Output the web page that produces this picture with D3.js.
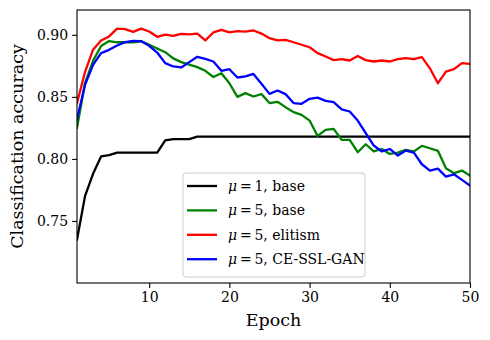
<!DOCTYPE html>
<html><head><meta charset="utf-8">
<script src="https://cdn.jsdelivr.net/npm/d3@7/dist/d3.min.js"></script>
<style>body{margin:0;background:#fff}svg{display:block}svg text{font-family:'DejaVu Serif',serif !important;fill:#000}</style>
</head><body><svg id="c" width="490" height="340"></svg>
<script>
const epochs = d3.range(1, 51);
const mu1Base = [0.735,0.770,0.788,0.802,0.803,0.805,0.805,0.805,0.805,0.805,
  0.805,0.815,0.816,0.816,0.816,0.818,0.818,0.818,0.818,0.818,
  0.818,0.818,0.818,0.818,0.818,0.818,0.818,0.818,0.818,0.818,
  0.818,0.818,0.818,0.818,0.818,0.818,0.818,0.818,0.818,0.818,
  0.818,0.818,0.818,0.818,0.818,0.818,0.818,0.818,0.818,0.818];
const mu5Base = [0.825,0.861,0.879,0.891,0.895,0.894,0.894,0.894,0.895,0.892,
  0.889,0.886,0.881,0.878,0.876,0.874,0.871,0.866,0.869,0.861,
  0.850,0.853,0.8503,0.8522,0.845,0.846,0.8417,0.8377,0.8355,0.8309,
  0.8185,0.8234,0.8242,0.8153,0.8153,0.8054,0.8118,0.806,0.808,0.804,
  0.805,0.8073,0.806,0.8105,0.8086,0.8065,0.7925,0.7885,0.7906,0.7865];
const mu5Elitism = [0.845,0.870,0.888,0.8954,0.8987,0.905,0.9046,0.9024,0.905,0.9027,
  0.8984,0.9002,0.8992,0.9008,0.9003,0.901,0.8955,0.9019,0.904,0.902,
  0.903,0.9025,0.9035,0.901,0.8973,0.8955,0.896,0.894,0.892,0.890,
  0.8852,0.8825,0.8796,0.8804,0.8793,0.883,0.8796,0.8785,0.8793,0.8785,
  0.8804,0.8812,0.8804,0.882,0.873,0.861,0.8704,0.8723,0.8772,0.8766];
const mu5CESSLGAN = [0.832,0.8597,0.8758,0.8852,0.8879,0.8914,0.8941,0.8952,0.8948,0.8911,
  0.8857,0.8772,0.8745,0.8737,0.878,0.8823,0.8806,0.8785,0.871,0.8723,
  0.8656,0.8665,0.8685,0.8605,0.8524,0.8551,0.8522,0.845,0.8444,0.8484,
  0.8494,0.8468,0.8457,0.84,0.8382,0.8309,0.8207,0.8108,0.806,0.808,
  0.8027,0.8067,0.8051,0.7957,0.7906,0.7922,0.7857,0.7876,0.7831,0.7785];
const seriesNames = ["base", "base", "elitism", "CE-SSL-GAN"];
const seriesMu = ["1", "5", "5", "5"];
const seriesColors = ["#000000", "#008000", "#ff0000", "#0000ff"];
const xTicks = [10, 20, 30, 40, 50];
const yTicks = [0.75, 0.80, 0.85, 0.90];

const series = [mu1Base, mu5Base, mu5Elitism, mu5CESSLGAN];
const FONT = "'DejaVu Serif', serif";
const L = 77, R = 470, T = 10, B = 283;
const svg = d3.select("#c");
const x = d3.scaleLinear().domain([1, 50]).range([L, R]);
const y = d3.scaleLinear().domain([0.70, 0.92]).range([B, T]);

const plot = svg.append("g");
plot.append("clipPath").attr("id","clip").append("rect").attr("x",L).attr("y",T).attr("width",R-L).attr("height",B-T);
const line = d3.line().x((d,i)=>x(epochs[i])).y(d=>y(d));
series.forEach((s,k)=>{
  plot.append("path").attr("d", line(s)).attr("fill","none")
    .attr("stroke", seriesColors[k]).attr("stroke-width", 2.3)
    .attr("stroke-linejoin","round").attr("stroke-linecap","square")
    .attr("clip-path","url(#clip)");
});

// axes
const xAxis = svg.append("g").attr("transform",`translate(0,${B})`)
  .call(d3.axisBottom(x).tickValues(xTicks).tickSize(4.9).tickPadding(4));
const yAxis = svg.append("g").attr("transform",`translate(${L},0)`)
  .call(d3.axisLeft(y).tickValues(yTicks).tickFormat(d3.format(".2f")).tickSize(4.9).tickPadding(4));
[xAxis,yAxis].forEach(a=>{
  a.attr("font-family", null).style("font-family", FONT);
  a.select(".domain").remove();
  a.selectAll("line").attr("stroke","#000").attr("stroke-width",1.1);
  a.selectAll("text").attr("font-size",14).style("font-family",FONT).attr("fill","#222");
});
svg.append("rect").attr("x",L).attr("y",T).attr("width",R-L).attr("height",B-T)
  .attr("fill","none").attr("stroke","#000").attr("stroke-width",1.1);

svg.append("text").attr("x",(L+R)/2).attr("y",326).attr("text-anchor","middle")
  .attr("font-size",17.5).style("font-family",FONT).text("Epoch");
svg.append("text").attr("transform",`translate(23,${(T+B)/2}) rotate(-90)`)
  .attr("text-anchor","middle").attr("font-size",17.5).style("font-family",FONT).text("Classification accuracy");

// legend
const lg = svg.append("g");
lg.append("rect").attr("x",183).attr("y",173).attr("width",182).attr("height",104)
  .attr("rx",3).attr("fill","#fff").attr("fill-opacity",0.8).attr("stroke","#cccccc").attr("stroke-width",1);
series.forEach((s,k)=>{
  const yy = 186 + k*24.4;
  lg.append("line").attr("x1",187).attr("x2",217).attr("y1",yy).attr("y2",yy)
    .attr("stroke",seriesColors[k]).attr("stroke-width",2.3);
  const t = lg.append("text").attr("x",228).attr("y",yy+5).attr("font-size",14).style("font-family",FONT);
  t.append("tspan").attr("font-style","italic").text("\u03bc");
  t.append("tspan").text("\u2009=\u2009" + seriesMu[k] + ", " + seriesNames[k]);
});
</script></body></html>
